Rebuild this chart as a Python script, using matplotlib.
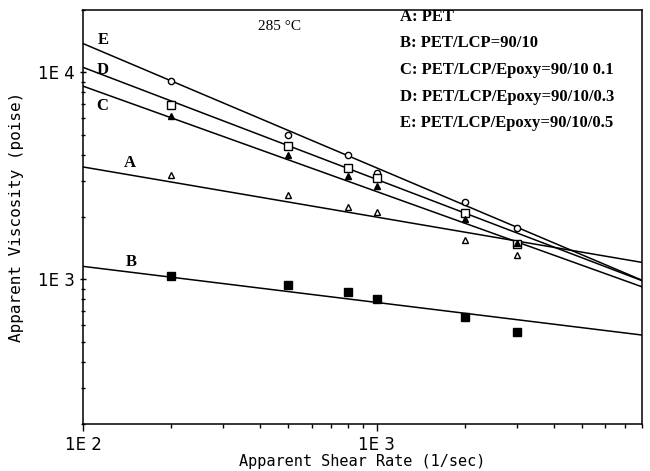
import numpy as np
import matplotlib
matplotlib.use("Agg")
import matplotlib.pyplot as plt
from matplotlib.ticker import LogLocator, FixedLocator, NullFormatter

# Shear rates (1/sec)
shear_rate = [200, 500, 800, 1000, 2000, 3000]

# Apparent viscosity (poise) for each sample
visc_A = [3200, 2560, 2245, 2124, 1557, 1304]   # PET
visc_B = [1034, 936, 866, 801, 657, 556]        # PET/LCP=90/10
visc_C = [6140, 3990, 3160, 2830, 1965, 1500]   # epoxy 0.1
visc_D = [6940, 4410, 3455, 3095, 2100, 1475]   # epoxy 0.3
visc_E = [9054, 4980, 3990, 3270, 2370, 1778]   # epoxy 0.5

# Fitted power-law lines: viscosity at the two ends of the shear-rate axis
line_x = [100, 8000]
line_A = [3490, 1207]
line_B = [1155, 538]
line_C = [8575, 920]
line_D = [10570, 985]
line_E = [13770, 990]

legend_lines = ["A: PET", "B: PET/LCP=90/10", "C: PET/LCP/Epoxy=90/10 0.1",
                "D: PET/LCP/Epoxy=90/10/0.3", "E: PET/LCP/Epoxy=90/10/0.5"]

serif = ["Liberation Serif", "DejaVu Serif"]
mono = ["DejaVu Sans Mono", "DejaVu Sans"]

fig = plt.figure(figsize=(6.5, 4.71), dpi=100)
ax = fig.add_axes([83/650, 1-424/471, (642-83)/650, (424-10)/471])
ax.set_xscale("log")
ax.set_yscale("log")
ax.set_xlim(100, 8000)
ax.set_ylim(200, 20000)

for ly in (line_A, line_B, line_C, line_D, line_E):
    ax.plot(line_x, ly, color="black", lw=1.1)

ax.plot(shear_rate, visc_E, "o", ms=4.5, mfc="white", mec="black", mew=1)
ax.plot(shear_rate, visc_D, "s", ms=5.5, mfc="white", mec="black", mew=1)
ax.plot(shear_rate, visc_C, "^", ms=5, mfc="black", mec="black")
ax.plot(shear_rate, visc_A, "^", ms=4.5, mfc="white", mec="black", mew=1)
ax.plot(shear_rate, visc_B, "s", ms=6, mfc="black", mec="black")

ax.xaxis.set_major_locator(FixedLocator([100, 1000]))
ax.xaxis.set_minor_locator(LogLocator(base=10, subs=np.arange(2, 10)))
ax.xaxis.set_minor_formatter(NullFormatter())
ax.set_xticklabels(["1E 2", "1E 3"])
ax.yaxis.set_major_locator(FixedLocator([1000, 10000]))
ax.yaxis.set_minor_locator(LogLocator(base=10, subs=np.arange(2, 10)))
ax.yaxis.set_minor_formatter(NullFormatter())
ax.set_yticklabels(["1E 3", "1E 4"])
ax.tick_params(axis="both", which="major", labelsize=12, length=5, width=1)
ax.tick_params(axis="both", which="minor", length=3, width=1)
ax.tick_params(axis="y", which="both", direction="inout")
ax.tick_params(axis="x", which="both", direction="out")
for s in ax.spines.values():
    s.set_linewidth(1.1)

ax.set_xlabel("Apparent Shear Rate (1/sec)", fontsize=11, family=mono,
              labelpad=0)
ax.set_ylabel("Apparent Viscosity (poise)", fontsize=11.5, family=mono,
              labelpad=10)

def px(x, y):
    return fig.transFigure.inverted().transform(
        fig.dpi_scale_trans.transform((x / 100, (471 - y) / 100)))

fig.text(*px(258, 27), "285 °C", family=serif, fontsize=11, va="center")
for i, t in enumerate(legend_lines):
    fig.text(*px(400, 17 + i * 26.5), t, family=serif, fontsize=12,
             fontweight="bold", va="center")

for lab, (x, y) in {"E": (103, 40), "D": (103, 70), "C": (102, 106),
                    "A": (130, 163), "B": (131, 262)}.items():
    fig.text(*px(x, y), lab, family=serif, fontsize=12, fontweight="bold",
             va="center", ha="center")

fig.savefig("out.png", dpi=100)
